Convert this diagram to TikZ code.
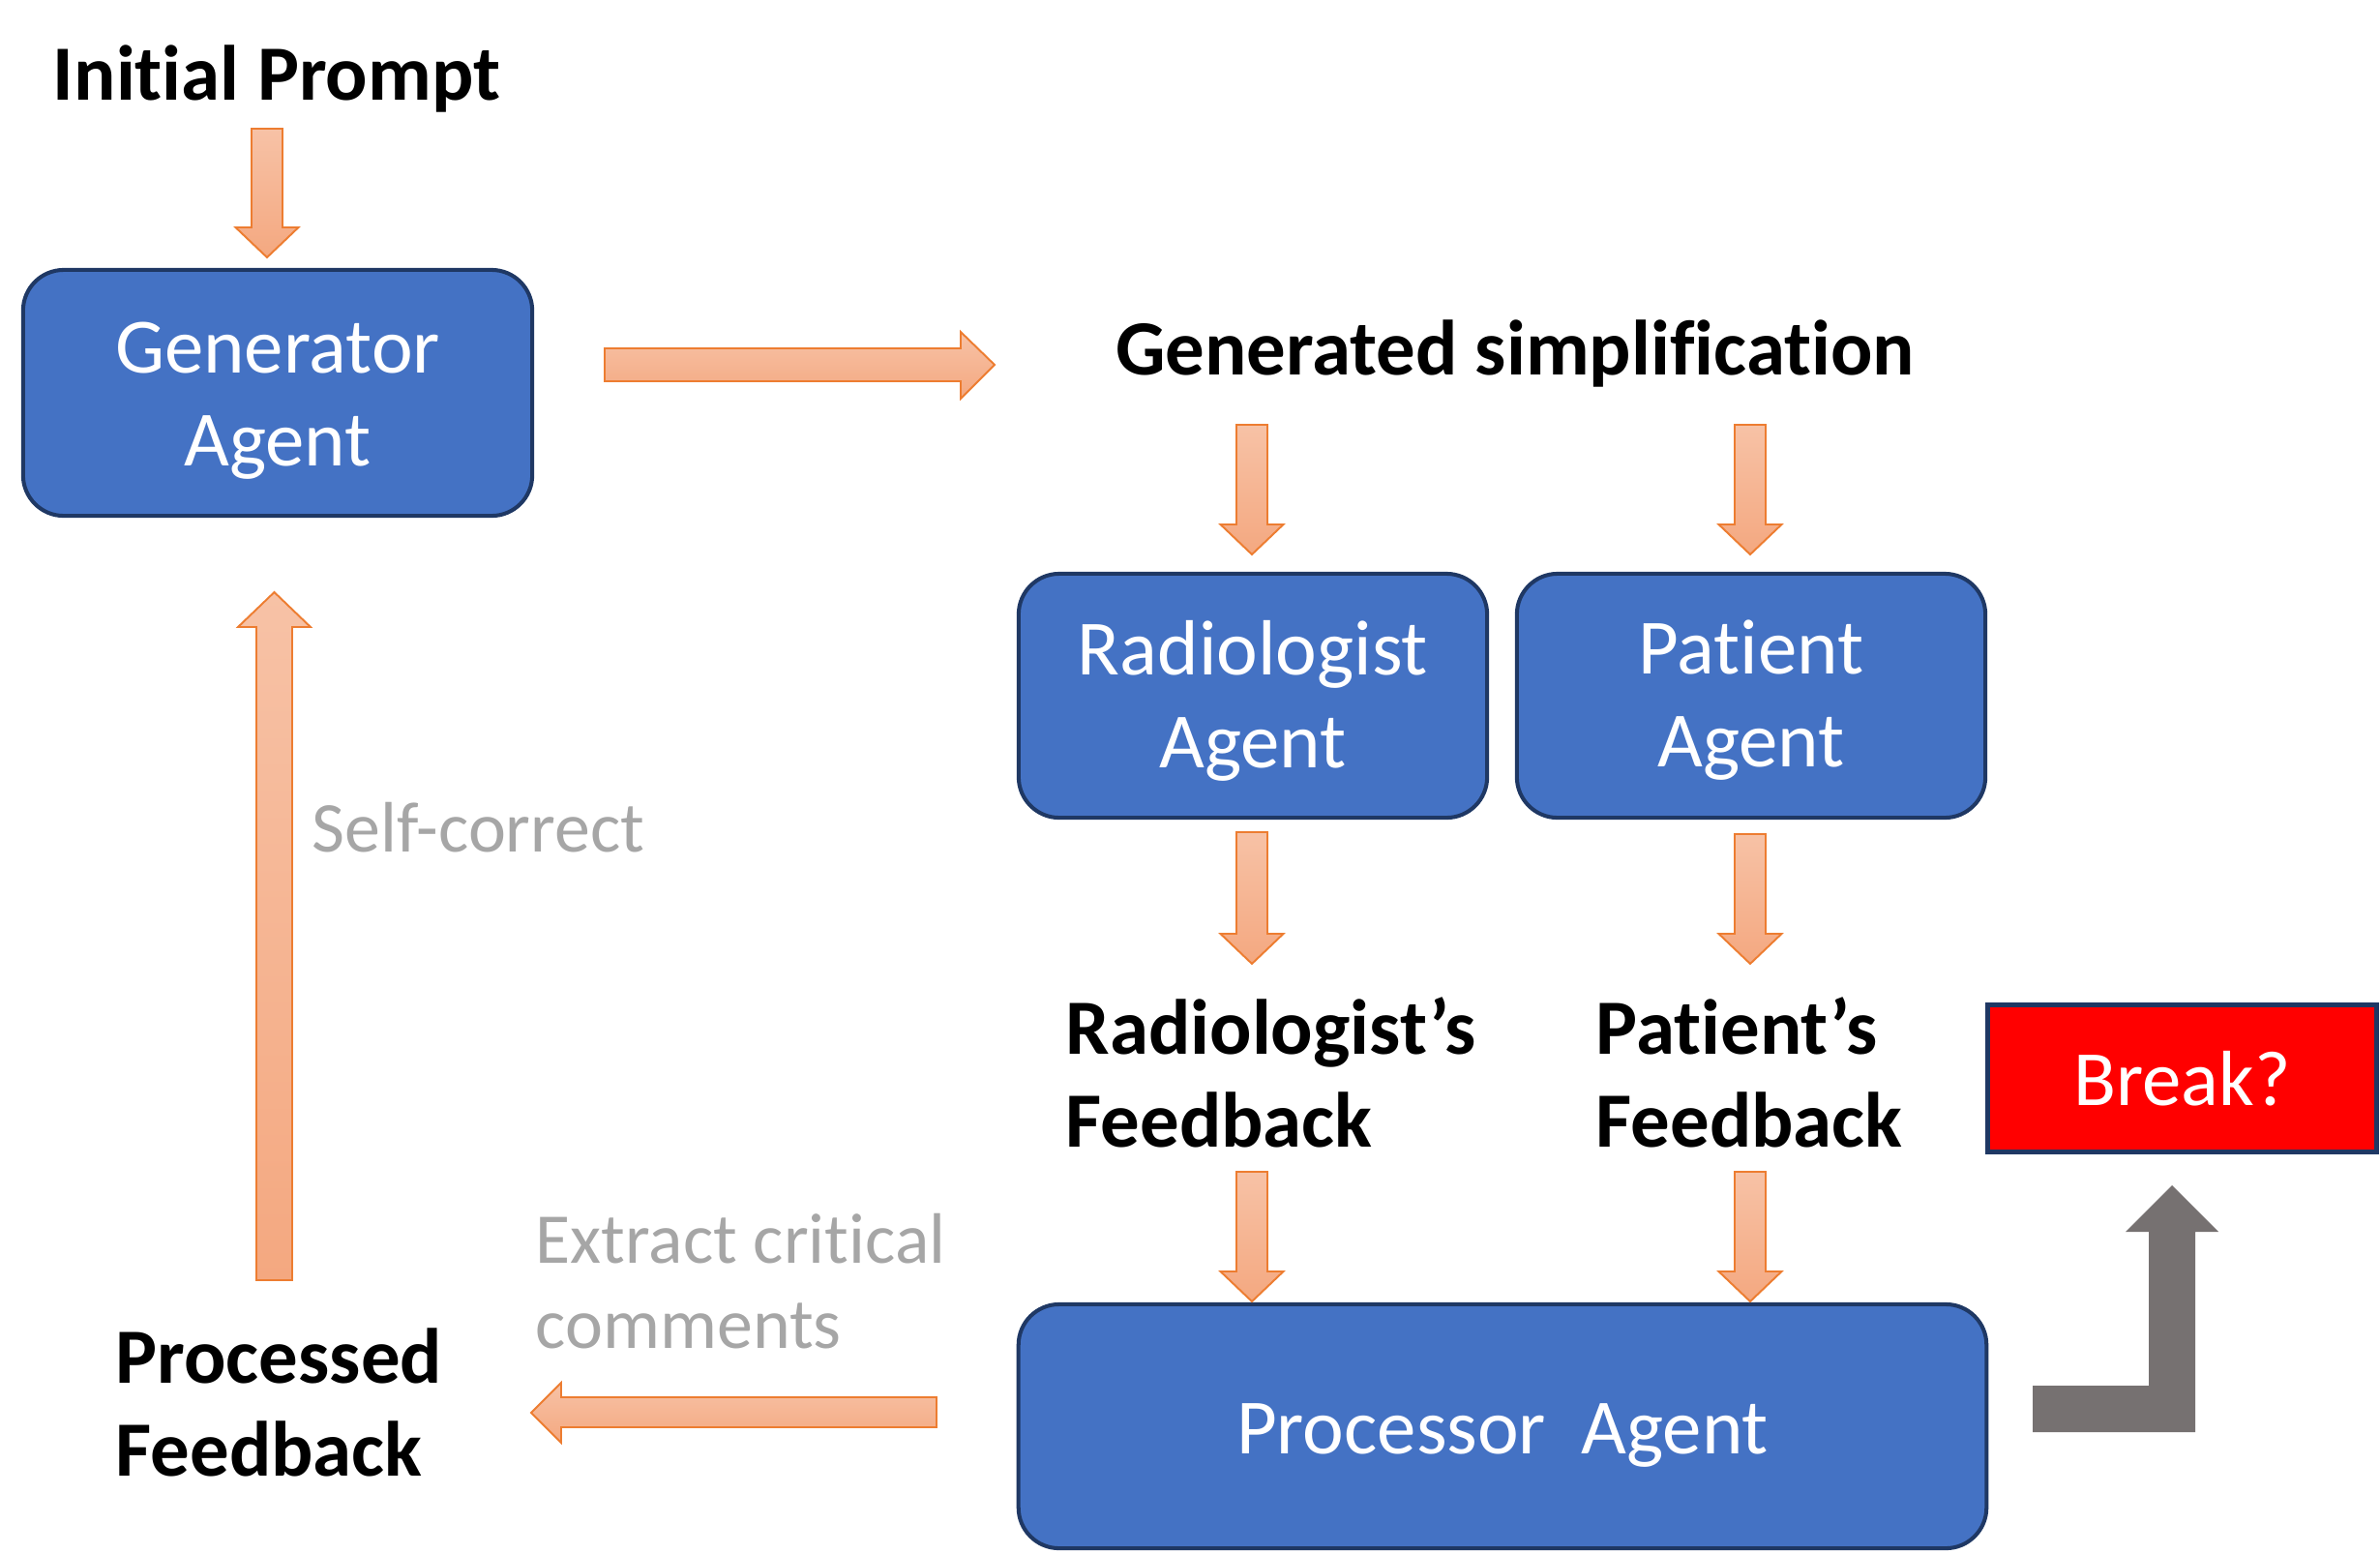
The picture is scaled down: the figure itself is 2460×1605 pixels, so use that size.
\documentclass[tikz,border=0pt]{standalone}
\usepackage{fontspec}
\setmainfont{Carlito}[Ligatures=NoCommon]
\usetikzlibrary{calc}
\definecolor{boxblue}{HTML}{4472C4}
\definecolor{boxline}{HTML}{1F3864}
\definecolor{arrline}{HTML}{ED7D31}
\definecolor{arrtop}{HTML}{F7C2A6}
\definecolor{arrbot}{HTML}{F4A880}
\definecolor{graytext}{HTML}{A6A6A6}
\definecolor{grayarrow}{HTML}{767171}
\definecolor{breakred}{HTML}{FF0000}
\newcommand\bigfont{\fontsize{23}{27.3}\selectfont}
\newcommand\grayfont{\fontsize{21}{25.3}\selectfont}
\tikzset{
  agentbox/.style={draw=boxline, line width=1.15pt, fill=boxblue, rounded corners=0.42cm,
    text=white, align=center, font=\bigfont, inner sep=0pt},
  boxtext/.style={font=\bigfont, text=white, align=center, inner sep=0pt},
  breakbox/.style={draw=boxline, line width=1.4pt, fill=breakred, text=white,
    font=\bigfont, inner sep=0pt},
  label/.style={font=\bigfont\bfseries, align=left, inner sep=0pt},
  graylabel/.style={font=\grayfont, text=graytext, align=left, inner sep=0pt},
  vblock/.style={draw=arrline, line width=0.55pt, top color=arrtop, bottom color=arrbot, line join=miter},
  upblock/.style={draw=arrline, line width=0.55pt, top color=arrtop, bottom color=arrbot, line join=miter},
  hblock/.style={draw=arrline, line width=0.55pt, top color=arrtop, bottom color=arrbot, line join=miter},
}
% down block arrow: x, y tail, y tip
\newcommand\arrDn[3]{\path[vblock] (#1-16,#2) -- (#1+16,#2) -- (#1+16,#3-31) -- (#1+32.5,#3-31) -- (#1,#3) -- (#1-32.5,#3-31) -- (#1-16,#3-31) -- cycle;}
\begin{document}
\begin{tikzpicture}[x=0.01cm,y=-0.01cm]
\useasboundingbox (0,0) rectangle (2460,1605);

% boxes
\node[agentbox, minimum width=5.26cm, minimum height=2.54cm] (gen) at (287,406) {};
\node[boxtext] (gentxt) at ($(gen.center)+(0,8)$) {Generator\\Agent};
\node[agentbox, minimum width=4.84cm, minimum height=2.52cm] (rad) at (1295,719) {};
\node[boxtext] (radtxt) at ($(rad.center)+(0,5)$) {Radiologist\\Agent};
\node[agentbox, minimum width=4.84cm, minimum height=2.52cm] (pat) at (1810,719) {};
\node[boxtext] (pattxt) at ($(pat.center)+(0,5)$) {Patient\\Agent};
\node[agentbox, minimum width=10.0cm, minimum height=2.52cm] (proc) at (1553,1474) {};
\node[boxtext] (proctxt) at ($(proc.center)+(0,9)$) {Processor\ \ Agent};
\node[breakbox, minimum width=4.02cm, minimum height=1.52cm] (brk) at (2255.5,1114.5) {Break?};

% labels
\node[label] (init) at (286,81) {Initial Prompt};
\node[label] (gsimp) at (1566,365) {Generated simplification};
\node[label, anchor=north west] (radfb) at (1101,1030) {Radiologist’s\\Feedback};
\node[label, anchor=north west] (patfb) at (1649,1030) {Patient’s\\Feedback};
\node[label, anchor=north west] (procfb) at (119,1372) {Processed\\Feedback};
\node[graylabel, anchor=north west] (extr) at (553,1253) {Extract critical\\comments};
\node[graylabel, anchor=north west] (selfc) at (322,829) {Self-correct};

% orange block arrows
\arrDn{276}{133}{266}
\arrDn{1294}{439}{573}
\arrDn{1809}{439}{573}
\arrDn{1294}{860}{996}
\arrDn{1809}{862}{996}
\arrDn{1294}{1211}{1345}
\arrDn{1809}{1211}{1345}

% right arrow gen -> generated simplification
\path[hblock] (625,360) -- (993,360) -- (993,343) -- (1028,377) -- (993,412) -- (993,394) -- (625,394) -- cycle;
% left arrow processor -> processed feedback
\path[hblock] (968,1444) -- (580,1444) -- (580,1429) -- (549,1460) -- (580,1491) -- (580,1475) -- (968,1475) -- cycle;
% up arrow processed feedback -> generator
\path[upblock] (265,1323) -- (265,648) -- (246,648) -- (283.5,612) -- (321,648) -- (302,648) -- (302,1323) -- cycle;

% gray bent arrow processor -> break
\path[fill=grayarrow] (2101,1432) -- (2221,1432) -- (2221,1273) -- (2197,1273) -- (2245,1225) -- (2293,1273) -- (2269,1273) -- (2269,1480) -- (2101,1480) -- cycle;
\end{tikzpicture}
\end{document}
